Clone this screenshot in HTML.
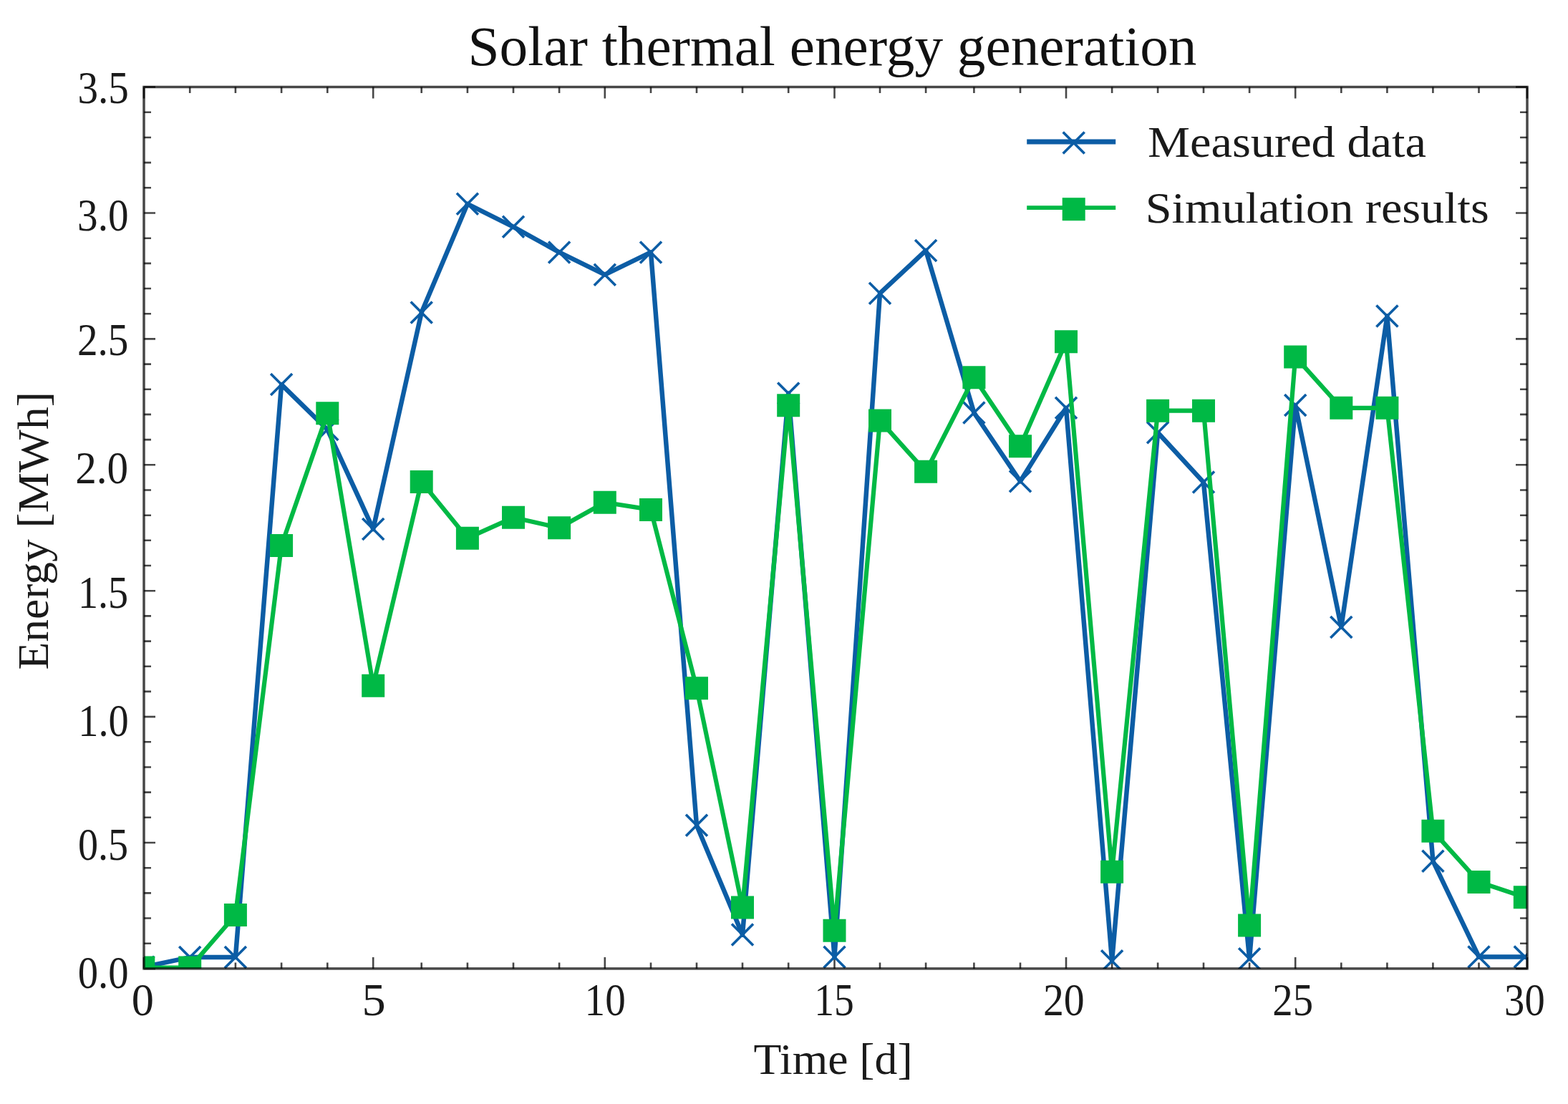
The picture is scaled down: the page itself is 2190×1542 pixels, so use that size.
<!DOCTYPE html><html><head><meta charset="utf-8"><title>Solar thermal energy generation</title>
<style>html,body{margin:0;padding:0;background:#fff;}svg{display:block;}text{font-family:'Liberation Serif', 'DejaVu Serif', serif;fill:#1a1a1a;}text.t{fill:#111;}</style></head><body>
<svg width="2190" height="1542" viewBox="0 0 2190 1542">
<rect x="0" y="0" width="2190" height="1542" fill="#fff"/>
<defs><clipPath id="ax"><rect x="201.0" y="121.5" width="1932.0" height="1231.4"/></clipPath></defs>
<text class="t" x="1162.5" y="90.5" font-size="78" text-anchor="middle" textLength="1018" lengthAdjust="spacingAndGlyphs">Solar thermal energy generation</text>
<path d="M201.0 1352.9v-16.0M201.0 121.5v16.0M265.2 1352.9v-8.5M265.2 121.5v8.5M328.9 1352.9v-8.5M328.9 121.5v8.5M393.1 1352.9v-8.5M393.1 121.5v8.5M457.3 1352.9v-8.5M457.3 121.5v8.5M521.2 1352.9v-16.0M521.2 121.5v16.0M588.7 1352.9v-8.5M588.7 121.5v8.5M652.9 1352.9v-8.5M652.9 121.5v8.5M717.0 1352.9v-8.5M717.0 121.5v8.5M781.1 1352.9v-8.5M781.1 121.5v8.5M844.8 1352.9v-16.0M844.8 121.5v16.0M909.0 1352.9v-8.5M909.0 121.5v8.5M973.0 1352.9v-8.5M973.0 121.5v8.5M1037.0 1352.9v-8.5M1037.0 121.5v8.5M1101.2 1352.9v-8.5M1101.2 121.5v8.5M1165.5 1352.9v-16.0M1165.5 121.5v16.0M1229.0 1352.9v-8.5M1229.0 121.5v8.5M1293.1 1352.9v-8.5M1293.1 121.5v8.5M1360.4 1352.9v-8.5M1360.4 121.5v8.5M1425.0 1352.9v-8.5M1425.0 121.5v8.5M1489.0 1352.9v-16.0M1489.0 121.5v16.0M1553.1 1352.9v-8.5M1553.1 121.5v8.5M1617.1 1352.9v-8.5M1617.1 121.5v8.5M1681.0 1352.9v-8.5M1681.0 121.5v8.5M1745.1 1352.9v-8.5M1745.1 121.5v8.5M1809.2 1352.9v-16.0M1809.2 121.5v16.0M1873.3 1352.9v-8.5M1873.3 121.5v8.5M1937.4 1352.9v-8.5M1937.4 121.5v8.5M2001.4 1352.9v-8.5M2001.4 121.5v8.5M2065.5 1352.9v-8.5M2065.5 121.5v8.5M2133.0 1352.9v-16.0M2133.0 121.5v16.0M201.0 1352.9h16.0M2133.0 1352.9h-16.0M201.0 1317.7h10.0M2133.0 1317.7h-10.0M201.0 1282.5h10.0M2133.0 1282.5h-10.0M201.0 1247.4h10.0M2133.0 1247.4h-10.0M201.0 1212.2h10.0M2133.0 1212.2h-10.0M201.0 1177.0h16.0M2133.0 1177.0h-16.0M201.0 1141.8h10.0M2133.0 1141.8h-10.0M201.0 1106.6h10.0M2133.0 1106.6h-10.0M201.0 1071.5h10.0M2133.0 1071.5h-10.0M201.0 1036.3h10.0M2133.0 1036.3h-10.0M201.0 1001.1h16.0M2133.0 1001.1h-16.0M201.0 965.9h10.0M2133.0 965.9h-10.0M201.0 930.7h10.0M2133.0 930.7h-10.0M201.0 895.6h10.0M2133.0 895.6h-10.0M201.0 860.4h10.0M2133.0 860.4h-10.0M201.0 825.2h16.0M2133.0 825.2h-16.0M201.0 790.0h10.0M2133.0 790.0h-10.0M201.0 754.8h10.0M2133.0 754.8h-10.0M201.0 719.7h10.0M2133.0 719.7h-10.0M201.0 684.5h10.0M2133.0 684.5h-10.0M201.0 649.3h16.0M2133.0 649.3h-16.0M201.0 614.1h10.0M2133.0 614.1h-10.0M201.0 578.9h10.0M2133.0 578.9h-10.0M201.0 543.8h10.0M2133.0 543.8h-10.0M201.0 508.6h10.0M2133.0 508.6h-10.0M201.0 473.4h16.0M2133.0 473.4h-16.0M201.0 438.2h10.0M2133.0 438.2h-10.0M201.0 403.0h10.0M2133.0 403.0h-10.0M201.0 367.9h10.0M2133.0 367.9h-10.0M201.0 332.7h10.0M2133.0 332.7h-10.0M201.0 297.5h16.0M2133.0 297.5h-16.0M201.0 262.3h10.0M2133.0 262.3h-10.0M201.0 227.1h10.0M2133.0 227.1h-10.0M201.0 192.0h10.0M2133.0 192.0h-10.0M201.0 156.8h10.0M2133.0 156.8h-10.0M201.0 121.5h16.0M2133.0 121.5h-16.0" stroke="#000" stroke-opacity="0.72" stroke-width="2.6" fill="none"/>
<g clip-path="url(#ax)">
<polyline points="200.3,1350.8 265.2,1337.1 328.9,1337.1 393.1,537.1 457.3,600.0 521.2,739.0 588.7,436.5 652.9,284.8 717.0,316.8 781.1,352.4 844.8,383.7 909.0,352.4 973.0,1152.7 1037.0,1305.4 1101.2,549.4 1165.5,1336.7 1229.0,409.7 1293.1,349.9 1360.4,576.5 1425.0,672.2 1489.0,569.8 1553.1,1342.3 1617.1,604.3 1681.0,673.6 1745.1,1339.2 1809.2,565.9 1873.3,875.9 1937.4,441.4 2001.4,1202.7 2065.5,1336.4 2129.8,1336.4" fill="none" stroke="#0C5DA5" stroke-width="6.5" stroke-linejoin="round" stroke-linecap="butt"/>
<path d="M185.3 1335.8L215.3 1365.8M185.3 1365.8L215.3 1335.8M250.2 1322.1L280.2 1352.1M250.2 1352.1L280.2 1322.1M313.9 1322.1L343.9 1352.1M313.9 1352.1L343.9 1322.1M378.1 522.1L408.1 552.1M378.1 552.1L408.1 522.1M442.3 585.0L472.3 615.0M442.3 615.0L472.3 585.0M506.2 724.0L536.2 754.0M506.2 754.0L536.2 724.0M573.7 421.5L603.7 451.5M573.7 451.5L603.7 421.5M637.9 269.8L667.9 299.8M637.9 299.8L667.9 269.8M702.0 301.8L732.0 331.8M702.0 331.8L732.0 301.8M766.1 337.4L796.1 367.4M766.1 367.4L796.1 337.4M829.8 368.7L859.8 398.7M829.8 398.7L859.8 368.7M894.0 337.4L924.0 367.4M894.0 367.4L924.0 337.4M958.0 1137.7L988.0 1167.7M958.0 1167.7L988.0 1137.7M1022.0 1290.4L1052.0 1320.4M1022.0 1320.4L1052.0 1290.4M1086.2 534.4L1116.2 564.4M1086.2 564.4L1116.2 534.4M1150.5 1321.7L1180.5 1351.7M1150.5 1351.7L1180.5 1321.7M1214.0 394.7L1244.0 424.7M1214.0 424.7L1244.0 394.7M1278.1 334.9L1308.1 364.9M1278.1 364.9L1308.1 334.9M1345.4 561.5L1375.4 591.5M1345.4 591.5L1375.4 561.5M1410.0 657.2L1440.0 687.2M1410.0 687.2L1440.0 657.2M1474.0 554.8L1504.0 584.8M1474.0 584.8L1504.0 554.8M1538.1 1327.3L1568.1 1357.3M1538.1 1357.3L1568.1 1327.3M1602.1 589.3L1632.1 619.3M1602.1 619.3L1632.1 589.3M1666.0 658.6L1696.0 688.6M1666.0 688.6L1696.0 658.6M1730.1 1324.2L1760.1 1354.2M1730.1 1354.2L1760.1 1324.2M1794.2 550.9L1824.2 580.9M1794.2 580.9L1824.2 550.9M1858.3 860.9L1888.3 890.9M1858.3 890.9L1888.3 860.9M1922.4 426.4L1952.4 456.4M1922.4 456.4L1952.4 426.4M1986.4 1187.7L2016.4 1217.7M1986.4 1217.7L2016.4 1187.7M2050.5 1321.4L2080.5 1351.4M2050.5 1351.4L2080.5 1321.4M2114.8 1321.4L2144.8 1351.4M2114.8 1351.4L2144.8 1321.4" stroke="#0C5DA5" stroke-width="3.6" fill="none" stroke-linecap="butt"/>
<polyline points="200.3,1351.5 265.2,1351.5 328.9,1278.0 393.1,761.9 457.3,577.2 521.2,957.8 588.7,672.9 652.9,751.7 717.0,722.8 781.1,737.3 844.8,701.7 909.0,711.9 973.0,961.3 1037.0,1267.4 1101.2,566.3 1165.5,1299.8 1229.0,587.4 1293.1,658.8 1360.4,527.2 1425.0,623.3 1489.0,477.3 1553.1,1217.8 1617.1,573.7 1681.0,573.7 1745.1,1292.4 1809.2,498.4 1873.3,569.8 1937.4,569.8 2001.4,1160.8 2065.5,1231.9 2129.8,1253.3" fill="none" stroke="#00B945" stroke-width="6.2" stroke-linejoin="round" stroke-linecap="butt"/>
<path d="M184.3 1335.5h32.0v32.0h-32.0zM249.2 1335.5h32.0v32.0h-32.0zM312.9 1262.0h32.0v32.0h-32.0zM377.1 745.9h32.0v32.0h-32.0zM441.3 561.2h32.0v32.0h-32.0zM505.2 941.8h32.0v32.0h-32.0zM572.7 656.9h32.0v32.0h-32.0zM636.9 735.7h32.0v32.0h-32.0zM701.0 706.8h32.0v32.0h-32.0zM765.1 721.3h32.0v32.0h-32.0zM828.8 685.7h32.0v32.0h-32.0zM893.0 695.9h32.0v32.0h-32.0zM957.0 945.3h32.0v32.0h-32.0zM1021.0 1251.4h32.0v32.0h-32.0zM1085.2 550.3h32.0v32.0h-32.0zM1149.5 1283.8h32.0v32.0h-32.0zM1213.0 571.4h32.0v32.0h-32.0zM1277.1 642.8h32.0v32.0h-32.0zM1344.4 511.2h32.0v32.0h-32.0zM1409.0 607.3h32.0v32.0h-32.0zM1473.0 461.3h32.0v32.0h-32.0zM1537.1 1201.8h32.0v32.0h-32.0zM1601.1 557.7h32.0v32.0h-32.0zM1665.0 557.7h32.0v32.0h-32.0zM1729.1 1276.4h32.0v32.0h-32.0zM1793.2 482.4h32.0v32.0h-32.0zM1857.3 553.8h32.0v32.0h-32.0zM1921.4 553.8h32.0v32.0h-32.0zM1985.4 1144.8h32.0v32.0h-32.0zM2049.5 1215.9h32.0v32.0h-32.0zM2113.8 1237.3h32.0v32.0h-32.0z" fill="#00B945"/>
</g>
<rect x="201.0" y="121.5" width="1932.0" height="1231.4" fill="none" stroke="#000" stroke-opacity="0.72" stroke-width="3.5"/>
<text x="183.7" y="1418.4" font-size="62.5" textLength="31.2" lengthAdjust="spacingAndGlyphs">0</text>
<text x="505.4" y="1418.4" font-size="62.5" textLength="33.2" lengthAdjust="spacingAndGlyphs">5</text>
<text x="816.6" y="1418.4" font-size="62.5" textLength="57.1" lengthAdjust="spacingAndGlyphs">10</text>
<text x="1137.2" y="1418.4" font-size="62.5" textLength="55.6" lengthAdjust="spacingAndGlyphs">15</text>
<text x="1456.9" y="1418.4" font-size="62.5" textLength="57.8" lengthAdjust="spacingAndGlyphs">20</text>
<text x="1777.3" y="1418.4" font-size="62.5" textLength="56.7" lengthAdjust="spacingAndGlyphs">25</text>
<text x="2101.1" y="1418.4" font-size="62.5" textLength="56.6" lengthAdjust="spacingAndGlyphs">30</text>
<text x="108.4" y="144.1" font-size="62.5" textLength="71.4" lengthAdjust="spacingAndGlyphs">3.5</text>
<text x="108.1" y="322.2" font-size="62.5" textLength="71.4" lengthAdjust="spacingAndGlyphs">3.0</text>
<text x="107.9" y="496.2" font-size="62.5" textLength="71.5" lengthAdjust="spacingAndGlyphs">2.5</text>
<text x="105.2" y="674.6" font-size="62.5" textLength="74.0" lengthAdjust="spacingAndGlyphs">2.0</text>
<text x="109.0" y="848.7" font-size="62.5" textLength="70.2" lengthAdjust="spacingAndGlyphs">1.5</text>
<text x="109.3" y="1027.7" font-size="62.5" textLength="70.5" lengthAdjust="spacingAndGlyphs">1.0</text>
<text x="109.0" y="1201.2" font-size="62.5" textLength="70.2" lengthAdjust="spacingAndGlyphs">0.5</text>
<text x="108.7" y="1379.7" font-size="62.5" textLength="70.9" lengthAdjust="spacingAndGlyphs">0.0</text>
<text x="1163.5" y="1499.7" font-size="62" text-anchor="middle" textLength="222.2" lengthAdjust="spacingAndGlyphs">Time [d]</text>
<text transform="translate(67,741.3) rotate(-90)" x="0" y="0" font-size="62" text-anchor="middle" textLength="388.2" lengthAdjust="spacingAndGlyphs">Energy [MWh]</text>
<path d="M1434.2 198.0H1558.2" stroke="#0C5DA5" stroke-width="7.2"/>
<path d="M1484.7 184.5L1514.7 214.5M1484.7 214.5L1514.7 184.5" stroke="#0C5DA5" stroke-width="3.6"/>
<path d="M1434.2 290.2H1558.2" stroke="#00B945" stroke-width="5.8"/>
<rect x="1483.7" y="276.2" width="32.0" height="32.0" fill="#00B945"/>
<text x="1603" y="218.7" font-size="62" textLength="389" lengthAdjust="spacingAndGlyphs">Measured data</text>
<text x="1599.7" y="311.4" font-size="62" textLength="480" lengthAdjust="spacingAndGlyphs">Simulation results</text>
</svg></body></html>
